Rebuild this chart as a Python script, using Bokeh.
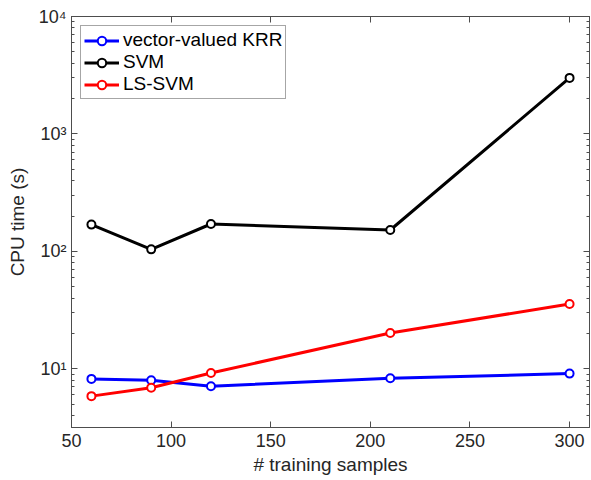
from bokeh.plotting import figure
from bokeh.models import (LogAxis, LinearAxis, FixedTicker, LogTicker, Legend, LegendItem,
                          Range1d)
from bokeh.embed import file_html
from bokeh.resources import INLINE

# data
n_samples = [60, 90, 120, 210, 300]
krr_time = [8.2, 8.0, 7.1, 8.3, 9.1]
svm_time = [169, 104, 171, 152, 3000]
lssvm_time = [5.85, 6.9, 9.2, 20.2, 35.6]

x_ticks = [50, 100, 150, 200, 250, 300]
y_tick_labels = {10: "10\u00b9", 100: "10\u00b2", 1000: "10\u00b3", 10000: "10\u2074"}

FONT = "Liberation Sans"
AX = "#4d4d4d"
TXT = "#262626"

p = figure(width=590, height=478, y_axis_type="log",
           x_range=Range1d(50, 310), y_range=Range1d(10 ** 0.5, 10 ** 4),
           output_backend="svg", toolbar_location=None,
           min_border_left=71, min_border_right=1, min_border_top=16, min_border_bottom=51)
p.grid.visible = False
p.outline_line_color = AX
p.outline_line_width = 1
p.background_fill_color = "white"

def style_axis(ax, labels=True):
    ax.axis_line_color = AX
    ax.major_tick_line_color = AX
    ax.minor_tick_line_color = AX
    ax.major_tick_in = 6
    ax.major_tick_out = 0
    ax.minor_tick_in = 3
    ax.minor_tick_out = 0
    ax.major_label_text_font = FONT
    ax.major_label_text_font_size = "18px"
    ax.major_label_text_color = TXT
    ax.axis_label_text_font = FONT
    ax.axis_label_text_font_size = "19px"
    ax.axis_label_text_font_style = "normal"
    ax.axis_label_text_color = TXT
    if not labels:
        ax.major_label_text_alpha = 0
        ax.major_label_text_font_size = "1px"

xa = p.xaxis[0]
xa.ticker = FixedTicker(ticks=x_ticks)
xa.axis_label = "# training samples"
xa.major_label_standoff = 6
xa.axis_label_standoff = 4
style_axis(xa)

ya = p.yaxis[0]
ya.ticker = LogTicker(desired_num_ticks=4, num_minor_ticks=10)
ya.major_label_overrides = y_tick_labels
ya.axis_label = "CPU time (s)"
ya.major_label_standoff = 5
ya.axis_label_standoff = 8
style_axis(ya)

top = LinearAxis(ticker=FixedTicker(ticks=x_ticks))
style_axis(top, labels=False)
p.add_layout(top, "above")
right = LogAxis(ticker=LogTicker(desired_num_ticks=4, num_minor_ticks=10))
style_axis(right, labels=False)
p.add_layout(right, "right")

items = []
for vals, color, name in [(krr_time, "#0000ff", "vector-valued KRR"),
                          (svm_time, "#000000", "SVM"),
                          (lssvm_time, "#ff0000", "LS-SVM")]:
    r1 = p.line(n_samples, vals, line_color=color, line_width=3)
    r2 = p.scatter(n_samples, vals, marker="circle", size=8, line_color=color,
                   line_width=2, fill_color="white")
    items.append(LegendItem(label=name, renderers=[r1, r2]))

legend = Legend(items=items, location="top_left")
legend.margin = 9
legend.padding = 3
legend.spacing = 0
legend.glyph_width = 35
legend.glyph_height = 21
legend.label_height = 21
legend.label_standoff = 4
legend.label_text_font = FONT
legend.label_text_font_size = "19px"
legend.label_text_color = "#000000"
legend.border_line_color = AX
legend.border_line_width = 1
legend.background_fill_color = "white"
p.add_layout(legend, "center")

open("out.html", "w").write(file_html(p, INLINE))
